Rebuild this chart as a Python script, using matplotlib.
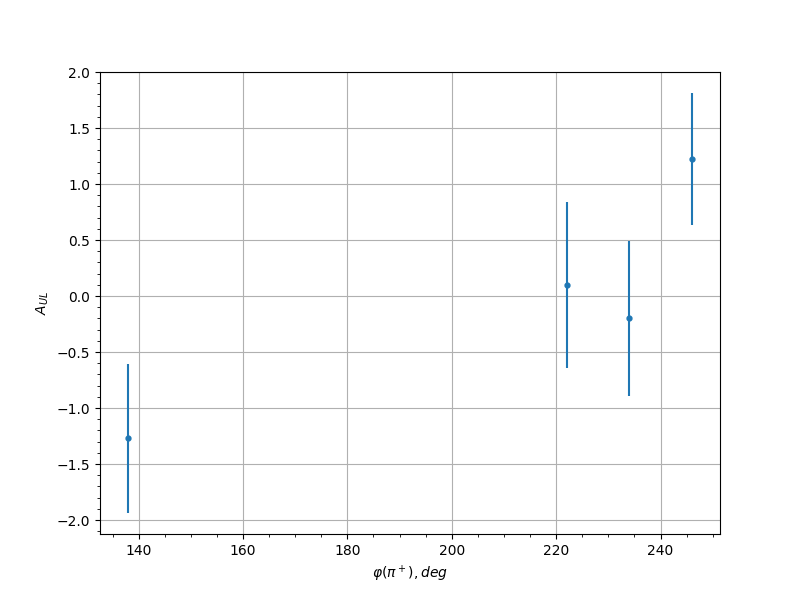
import matplotlib
matplotlib.use('Agg')
import matplotlib.pyplot as plt

# data
phi = [138, 222, 234, 246]
a_ul = [-1.27, 0.10, -0.20, 1.222]
a_err = [0.667, 0.74, 0.69, 0.591]

fig, ax = plt.subplots(figsize=(8, 6), dpi=100)
ax.errorbar(phi, a_ul, yerr=a_err, fmt='o', markersize=3.5)
ax.set_xlabel(r'$\varphi(\pi^+), deg$')
ax.set_ylabel(r'$A_{UL}$')
ax.minorticks_on()
ax.grid(True, which='major')

fig.savefig('out.png')
